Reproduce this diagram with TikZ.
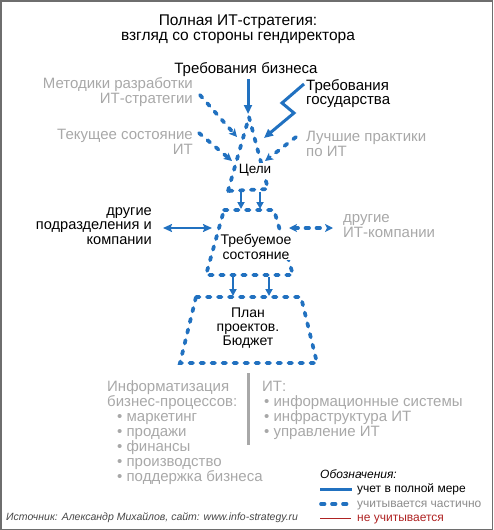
\documentclass[tikz,border=0pt]{standalone}
\usepackage{fontspec}
\setmainfont{Liberation Sans}
\usetikzlibrary{arrows.meta}
\definecolor{itblue}{RGB}{33,113,192}
\definecolor{txtgray}{RGB}{168,168,168}
\definecolor{legray}{RGB}{140,140,140}
\definecolor{framegray}{RGB}{110,110,110}
\definecolor{nored}{RGB}{175,35,35}
\definecolor{srcgray}{RGB}{70,70,70}
\begin{document}
\begin{tikzpicture}[x=1pt,y=-1pt,
  txt/.style={inner sep=0pt, font=\fontsize{15}{14.5}\selectfont},
  graytxt/.style={txt, text=txtgray},
  boxtxt/.style={inner sep=1pt, fill=white, font=\fontsize{13.5}{14}\selectfont, align=center},
  listtxt/.style={inner sep=0pt, text=txtgray, font=\fontsize{15}{15}\selectfont, align=left},
  full/.style={draw=itblue, line width=3pt},
  part/.style={draw=itblue, line width=3.7pt, line cap=round, dash pattern=on 3.5pt off 7.5pt},
  tipF/.style={-{Triangle[length=9pt,width=8pt]}},
  tipS/.style={-{Triangle[length=7pt,width=7pt]}},
  tipD/.style={-{Stealth[length=8pt,width=8pt,inset=2pt]}},
  both/.style={{Stealth[length=9pt,width=8pt,inset=1.5pt]}-{Stealth[length=9pt,width=8pt,inset=1.5pt]}},
  bothD/.style={{Stealth[length=8pt,width=8pt,inset=2pt]}-{Stealth[length=8pt,width=8pt,inset=2pt]}}
]
\useasboundingbox (0,0) rectangle (493,530);
\draw[framegray, line width=1.5pt] (0.75,0.75) rectangle (492.25,529.25);

% title
\node[inner sep=0pt, align=center, anchor=base, font=\fontsize{15.5}{14.7}\selectfont] (title) at (238,40.5)
  {Полная ИТ-стратегия:\\взгляд со стороны гендиректора};

% input labels
\node[txt, anchor=base] (tb) at (246,73) {Требования бизнеса};
\node[txt, anchor=base west, align=left] (tg) at (306,104.5) {Требования\\государства};
\node[graytxt, anchor=base east, align=right] (met) at (193,103) {Методики разработки\\ИТ-стратегии};
\node[graytxt, anchor=base east, align=right] (tek) at (193,154) {Текущее состояние\\ИТ};
\node[graytxt, anchor=base west, align=left] (best) at (306,156) {Лучшие практики\\по ИТ};

% coordinates
\coordinate (tbS) at (248,79);   \coordinate (tbE) at (248,114);
\coordinate (tgS) at (304,84);   \coordinate (tgA) at (282,103);
\coordinate (tgB) at (294,113);  \coordinate (tgE) at (264,138);
\coordinate (metS) at (200,95);  \coordinate (metE) at (237,137);
\coordinate (tekS) at (199,133); \coordinate (tekE) at (232,161);
\coordinate (bestS) at (296,137); \coordinate (bestE) at (265,161);

% goals triangle
\coordinate (g1) at (249,117); \coordinate (g2) at (268,189); \coordinate (g3) at (228,191);
\draw[part] (g3) -- (g1) -- (g2) -- cycle;
\node[boxtxt, anchor=base] (goal) at (255,173) {Цели};

% arrows into goals
\draw[full, tipF] (tbS) -- (tbE);
\draw[full, tipF] (tgS) -- (tgA) -- (tgB) -- (tgE);
\draw[part, tipD] (metS) -- (metE);
\draw[part, tipD] (tekS) -- (tekE);
\draw[part, tipD] (bestS) -- (bestE);

% required state trapezoid
\coordinate (r1) at (224,210); \coordinate (r2) at (274,210);
\coordinate (r3) at (293,275); \coordinate (r4) at (206,275);
\draw[part] (r1) -- (r2) -- (r3) -- (r4) -- cycle;
\node[boxtxt, font=\fontsize{14}{14.3}\selectfont, anchor=base] (req) at (256,259) {Требуемое\\состояние};

\coordinate (ga1) at (241,192); \coordinate (ga2) at (241,209);
\coordinate (gb1) at (260,192); \coordinate (gb2) at (260,209);
\draw[full, line width=2.5pt, tipS] (ga1) -- (ga2);
\draw[full, line width=2.5pt, tipS] (gb1) -- (gb2);

% plan trapezoid
\coordinate (p1) at (196,297); \coordinate (p2) at (301,297);
\coordinate (p3) at (317,363); \coordinate (p4) at (180,363);
\draw[part] (p1) -- (p2) -- (p3) -- (p4) -- cycle;
\node[boxtxt, fill=none, font=\fontsize{14}{13.7}\selectfont, anchor=base] (plan) at (248,345) {План\\проектов.\\Бюджет};

\coordinate (ra1) at (233,277); \coordinate (ra2) at (233,296);
\coordinate (rb1) at (269,277); \coordinate (rb2) at (269,296);
\draw[full, line width=2.5pt, tipS] (ra1) -- (ra2);
\draw[full, line width=2.5pt, tipS] (rb1) -- (rb2);

% side partners
\node[txt, font=\fontsize{14.6}{14.3}\selectfont, anchor=base east, align=right] (dep) at (152,244) {другие\\подразделения и\\компании};
\node[graytxt, anchor=base west, align=left] (itc) at (343,237) {другие\\ИТ-компании};
\coordinate (dL) at (163,228); \coordinate (dR) at (212,228);
\coordinate (iL) at (289,228); \coordinate (iR) at (333,228);
\draw[full, line width=2.7pt, both] (dL) -- (dR);
\draw[part, bothD] (iL) -- (iR);

% bottom lists
\coordinate (v1) at (248,373); \coordinate (v2) at (248,445);
\draw[draw=txtgray, line width=3pt] (v1) -- (v2);
\node[listtxt, anchor=base west] (inf) at (107,406) {Информатизация\\бизнес-процессов:};
\node[listtxt, anchor=base west] (infl) at (117,481) {• маркетинг\\• продажи\\• финансы\\• производство\\• поддержка бизнеса};
\node[listtxt, anchor=base west] (it) at (262,391) {ИТ:};
\node[listtxt, anchor=base west] (itl) at (264,436) {• информационные системы\\• инфраструктура ИТ\\• управление ИТ};

% legend
\node[inner sep=0pt, anchor=base west, font=\fontsize{12}{12}\selectfont\itshape] (leg) at (320,478) {Обозначения:};
\coordinate (l1a) at (320,489); \coordinate (l1b) at (352,489);
\coordinate (l2a) at (321,504); \coordinate (l2b) at (352,504);
\coordinate (l3a) at (320,518); \coordinate (l3b) at (351,518);
\draw[full] (l1a) -- (l1b);
\draw[part] (l2a) -- (l2b);
\draw[draw=nored, line width=1pt] (l3a) -- (l3b);
\node[inner sep=0pt, anchor=base west, font=\fontsize{12}{12}\selectfont] (lt1) at (357,492) {учет в полной мере};
\node[inner sep=0pt, anchor=base west, text=legray, font=\fontsize{12}{12}\selectfont] (lt2) at (357,507) {учитывается частично};
\node[inner sep=0pt, anchor=base west, text=nored, font=\fontsize{12}{12}\selectfont] (lt3) at (357,521) {не учитывается};

% source
\node[inner sep=0pt, anchor=base west, text=srcgray, font=\fontsize{10.5}{10.5}\selectfont\itshape] (src) at (6,520)
  {Источник: Александр Михайлов, сайт: www.info-strategy.ru};
\end{tikzpicture}
\end{document}
